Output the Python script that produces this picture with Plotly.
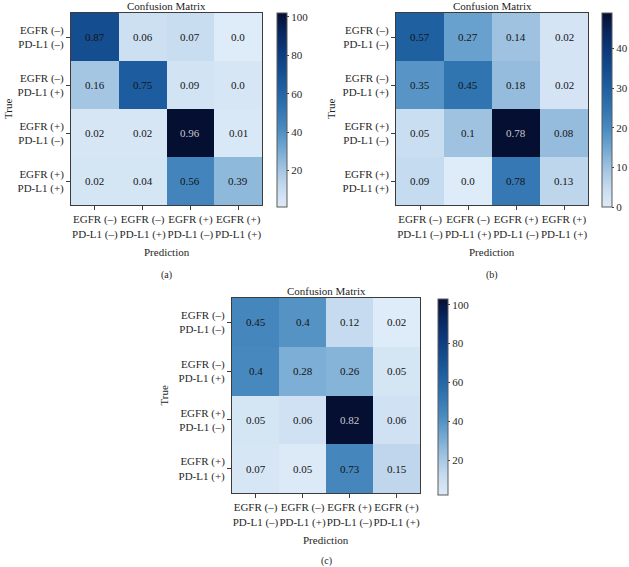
import plotly.graph_objects as go

W, H = 629, 567
FONT = "Liberation Serif"

labels = ["EGFR (–)<br>PD-L1 (–)", "EGFR (–)<br>PD-L1 (+)",
          "EGFR (+)<br>PD-L1 (–)", "EGFR (+)<br>PD-L1 (+)"]

# displayed (row-normalised) values
text_a = [[0.87, 0.06, 0.07, 0.0],
          [0.16, 0.75, 0.09, 0.0],
          [0.02, 0.02, 0.96, 0.01],
          [0.02, 0.04, 0.56, 0.39]]
text_b = [[0.57, 0.27, 0.14, 0.02],
          [0.35, 0.45, 0.18, 0.02],
          [0.05, 0.1, 0.78, 0.08],
          [0.09, 0.0, 0.78, 0.13]]
text_c = [[0.45, 0.4, 0.12, 0.02],
          [0.4, 0.28, 0.26, 0.05],
          [0.05, 0.06, 0.82, 0.06],
          [0.07, 0.05, 0.73, 0.15]]

# colour values (counts) estimated from the cell shades
counts_a = [[72, 8, 10, 1],
            [20, 64, 6, 4],
            [4, 4, 102, 3],
            [5, 5, 45, 25]]
counts_b = [[30, 16, 10, 2],
            [18, 25, 11, 2],
            [4, 10, 49, 11],
            [5, 0, 24, 6]]
counts_c = [[45, 40, 12, 2],
            [44, 30, 28, 6],
            [6, 8, 103, 8],
            [5, 3, 45, 14]]

cbar_ticks_a = [20, 40, 60, 80, 100]
cbar_ticks_b = [0, 10, 20, 30, 40]
cbar_ticks_c = [20, 40, 60, 80, 100]

colorscale = [
    [0.0, "rgb(222,235,248)"], [0.1, "rgb(198,219,239)"],
    [0.2, "rgb(160,195,225)"], [0.3, "rgb(115,168,210)"],
    [0.4, "rgb(75,140,192)"], [0.5, "rgb(50,118,178)"],
    [0.6, "rgb(32,98,163)"], [0.7, "rgb(20,78,145)"],
    [0.8, "rgb(12,58,125)"], [0.9, "rgb(8,38,95)"],
    [1.0, "rgb(5,15,50)"],
]

# panel geometry in pixels: heatmap box (x0,x1,y0,y1), colorbar x, colorbar y0,y1
panels = [
    dict(box=(71, 262, 13, 205), cb=(277, 13, 207), z=counts_a, t=text_a,
         zr=(1, 102), ticks=cbar_ticks_a, tag="(a)", true_x=8, tagy=275,
         predy=252),
    dict(box=(396, 588, 13, 205), cb=(602, 13, 207), z=counts_b, t=text_b,
         zr=(0, 49), ticks=cbar_ticks_b, tag="(b)", true_x=331, tagy=275,
         predy=252),
    dict(box=(232, 420, 298, 493), cb=(438, 299, 495), z=counts_c, t=text_c,
         zr=(2, 103), ticks=cbar_ticks_c, tag="(c)", true_x=163, tagy=561,
         predy=540),
]

fig = go.Figure()
annotations = []
layout = {}
axis_line = "rgb(60,60,60)"

for i, p in enumerate(panels):
    n = "" if i == 0 else str(i + 1)
    x0, x1, y0, y1 = p["box"]
    cbx, cby0, cby1 = p["cb"]
    fig.add_trace(go.Heatmap(
        z=p["z"], x=[0, 1, 2, 3], y=[0, 1, 2, 3],
        zmin=p["zr"][0], zmax=p["zr"][1],
        colorscale=colorscale, xaxis="x" + n, yaxis="y" + n,
        hoverinfo="skip",
        colorbar=dict(
            x=cbx / W, xanchor="left", xref="paper",
            y=1 - (cby0 + cby1) / 2 / H, yanchor="middle", yref="paper",
            len=cby1 - cby0, lenmode="pixels", thickness=10,
            xpad=0, ypad=0, outlinewidth=1, outlinecolor="rgb(90,90,90)",
            tickvals=p["ticks"], ticks="outside", ticklen=2,
            tickcolor="rgb(60,60,60)",
            tickfont=dict(family=FONT, size=11, color="rgb(40,40,40)"),
        ),
    ))
    layout["xaxis" + n] = dict(
        domain=[x0 / W, x1 / W], anchor="y" + n, range=[-0.5, 3.5],
        tickvals=[0, 1, 2, 3], ticktext=labels, ticks="outside", ticklen=4,
        tickangle=0,
        tickcolor=axis_line, showline=True, mirror=True, linecolor=axis_line,
        linewidth=1, showgrid=False, zeroline=False, fixedrange=True,
        tickfont=dict(family=FONT, size=11, color="rgb(40,40,40)"),
    )
    layout["yaxis" + n] = dict(
        domain=[1 - y1 / H, 1 - y0 / H], anchor="x" + n, range=[3.5, -0.5],
        tickvals=[0, 1, 2, 3], ticktext=labels, ticks="outside", ticklen=4,
        tickcolor=axis_line, showline=True, mirror=True, linecolor=axis_line,
        linewidth=1, showgrid=False, zeroline=False, fixedrange=True,
        tickfont=dict(family=FONT, size=11, color="rgb(40,40,40)"),
    )
    zmax = max(max(r) for r in p["z"])
    for r in range(4):
        for c in range(4):
            v = p["z"][r][c]
            annotations.append(dict(
                x=c, y=r, xref="x" + n, yref="y" + n, showarrow=False,
                text=str(p["t"][r][c]),
                font=dict(family=FONT, size=11,
                          color="rgb(200,200,205)" if v >= 0.9 * zmax else "rgb(20,20,20)"),
            ))
    cx = (x0 + x1) / 2 / W
    common = dict(xref="paper", yref="paper", showarrow=False,
                  xanchor="center", yanchor="middle")
    annotations += [
        dict(x=cx, y=1 - (y0 - 7) / H, text="Confusion Matrix",
             font=dict(family=FONT, size=11, color="rgb(30,30,30)"), **common),
        dict(x=cx, y=1 - p["predy"] / H, text="Prediction",
             font=dict(family=FONT, size=11, color="rgb(30,30,30)"), **common),
        dict(x=cx, y=1 - p["tagy"] / H, text=p["tag"],
             font=dict(family=FONT, size=10, color="rgb(30,30,30)"), **common),
        dict(x=p["true_x"] / W, y=1 - (y0 + y1) / 2 / H, text="True",
             textangle=-90,
             font=dict(family=FONT, size=11, color="rgb(30,30,30)"), **common),
    ]

fig.update_layout(
    width=W, height=H, margin=dict(l=0, r=0, t=0, b=0),
    paper_bgcolor="white", plot_bgcolor="white", showlegend=False,
    annotations=annotations, **layout,
)
fig.write_html("out.html", config={"displayModeBar": False},
               post_script="document.body.style.margin='0px';")
